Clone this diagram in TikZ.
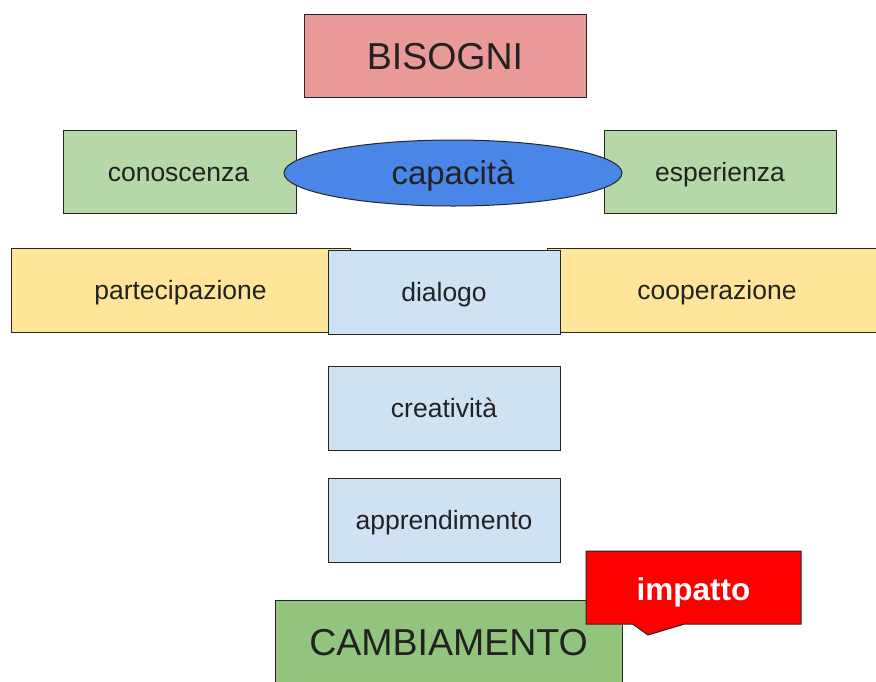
\documentclass[tikz,border=0pt]{standalone}
\usepackage{fontspec}
\setmainfont{Liberation Sans}
\usepackage{xcolor}
\usepackage{tikz}
\usetikzlibrary{shapes.geometric,shapes.callouts}

\definecolor{rosa}{HTML}{EA9999}
\definecolor{verdino}{HTML}{B6D7A8}
\definecolor{blu}{HTML}{4A86E8}
\definecolor{giallo}{HTML}{FFE599}
\definecolor{azzurro}{HTML}{CFE2F3}
\definecolor{verde}{HTML}{93C47D}
\definecolor{testo}{HTML}{222222}

\begin{document}
\begin{tikzpicture}[x=1pt,y=-1pt,
  box/.style={draw=black!85, line width=1pt, inner sep=0pt, text=testo,
    text height=19pt, text depth=0pt,
    font=\fontsize{26.5}{30}\selectfont},
  bigbox/.style={box, font=\fontsize{37.5}{42}\selectfont}]
\useasboundingbox (0,0) rectangle (876,681);
\clip (0,0) rectangle (876,681);

\node[bigbox, fill=rosa, minimum width=282pt, minimum height=83pt, text height=27.6pt] (bisogni) at (445,55.5) {BISOGNI};

\node[box, fill=verdino, minimum width=233pt, minimum height=83pt] (conoscenza) at (179.5,171.5) {\hspace*{-2pt}conoscenza};
\node[box, fill=verdino, minimum width=232pt, minimum height=83pt] (esperienza) at (720,171.5) {esperienza};
\node[box, ellipse, fill=blu, minimum width=338pt, minimum height=66pt, text height=22pt,
  font=\fontsize{33}{36}\selectfont] (capacita) at (453,173) {capacità};

\node[box, fill=giallo, minimum width=339pt, minimum height=84pt] (partecipazione) at (180.5,290) {partecipazione};
\node[box, fill=giallo, minimum width=334pt, minimum height=84pt] (cooperazione) at (714,290) {\hspace*{6pt}cooperazione};
\node[box, fill=azzurro, minimum width=232pt, minimum height=84pt] (dialogo) at (444,292) {dialogo};

\node[box, fill=azzurro, minimum width=232pt, minimum height=84pt] (creativita) at (444,408) {creatività};
\node[box, fill=azzurro, minimum width=232pt, minimum height=84pt] (apprendimento) at (444,520) {apprendimento};

\node[bigbox, fill=verde, minimum width=347pt, minimum height=100pt, text height=10pt] (cambiamento) at (448.5,650) {CAMBIAMENTO};

\node[box, rectangle callout, fill=red, text=white, minimum width=215pt, minimum height=73pt,
  text height=25pt, callout absolute pointer={(648,635)}, callout pointer width=52pt,
  font=\fontsize{31.5}{36}\bfseries\selectfont] (impatto) at (693.5,587.5) {impatto};
\end{tikzpicture}
\end{document}
